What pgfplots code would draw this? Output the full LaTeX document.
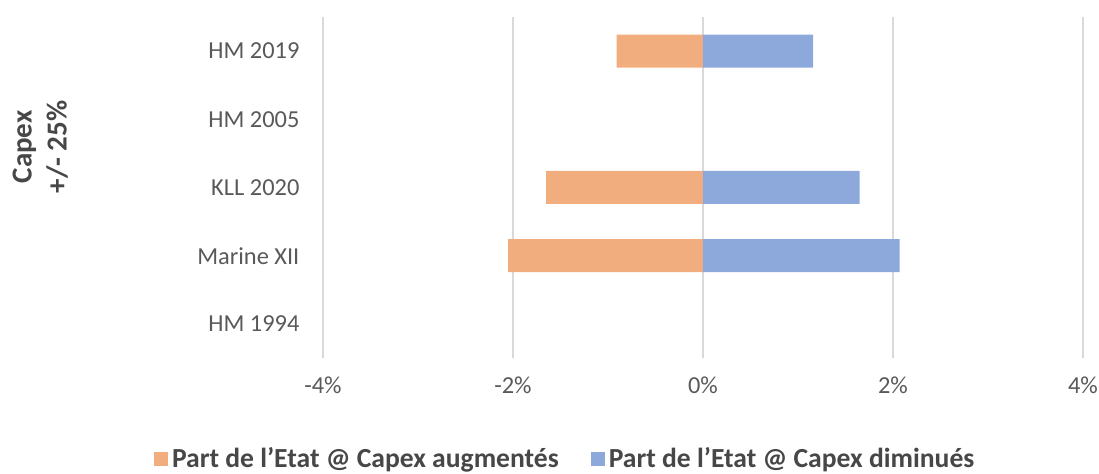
\documentclass[border=0pt]{standalone}
\usepackage{pgfplots}
\pgfplotsset{compat=1.18}
\usepackage{fontspec}
\setmainfont{Carlito}
\definecolor{barorange}{HTML}{F1AD7D}
\definecolor{barblue}{HTML}{8DA9DB}
\definecolor{gridgray}{HTML}{D9D9D9}
\definecolor{labgray}{HTML}{595959}
\begin{document}
\begin{tikzpicture}
\begin{axis}[
  scale only axis,
  width=380pt, height=170.5pt,
  xmin=-4, xmax=4,
  ymin=-0.5, ymax=4.5,
  y dir=reverse,
  xtick={-4,-2,0,2,4},
  xticklabel={\pgfmathprintnumber{\tick}\%},
  /pgf/number format/assume math mode=true,
  ytick={0,1,2,3,4},
  yticklabels={HM 2019,HM 2005,KLL 2020,Marine XII,HM 1994},
  xmajorgrids,
  grid style={gridgray, line width=0.8pt},
  axis line style={draw=none},
  tick style={draw=none},
  tick label style={font=\fontsize{12.2}{14}\selectfont, text=labgray},
  xticklabel style={yshift=-6pt},
  yticklabel style={xshift=-4pt},
  xbar, bar width=16.5pt, bar shift=0pt,
  legend style={at={(0.32,-0.295)}, anchor=center, draw=none,
    legend columns=2, font=\fontsize{13.8}{15}\selectfont\bfseries,
    text=labgray!80!black, /tikz/every even column/.append style={column sep=14pt}},
  legend image code/.code={\fill[#1] (0pt,-3.5pt) rectangle (7pt,3.5pt);},
  clip=false,
]
\addplot[fill=barorange, draw=none] coordinates {(-0.91,0) (-1.65,2) (-2.05,3)};
\addlegendentry{Part de l’Etat @ Capex augmentés}
\addplot[fill=barblue, draw=none] coordinates {(1.16,0) (1.65,2) (2.07,3)};
\addlegendentry{Part de l’Etat @ Capex diminués}
\node[font=\fontsize{14.5}{17.5}\selectfont\bfseries, text=labgray!80!black, rotate=90, align=center]
  at (axis description cs:-0.372,0.619) {Capex\\+/- 25\%};
\end{axis}
\pgfresetboundingbox
\useasboundingbox (-161.5pt,-58pt) rectangle (388pt,179pt);
\end{tikzpicture}
\end{document}
